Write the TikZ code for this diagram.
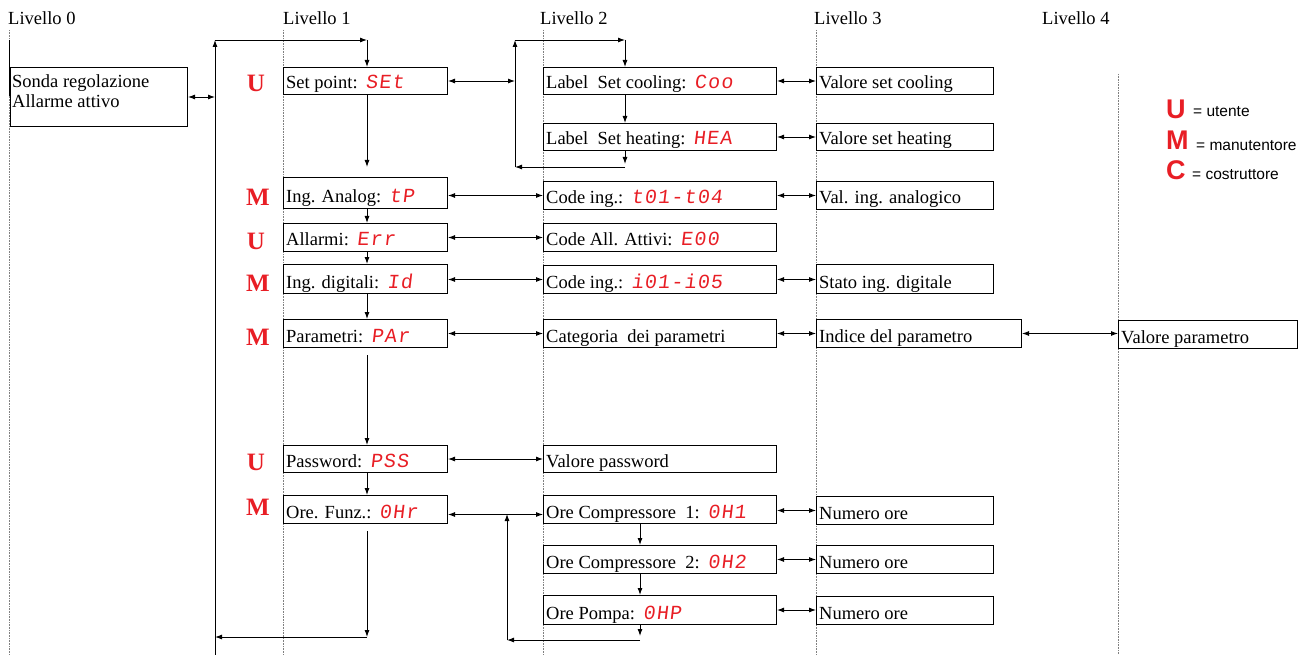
\documentclass[tikz,border=0pt]{standalone}
\usepackage{fontspec}
\setmainfont{Liberation Serif}
\newfontfamily\segfont{Liberation Mono}[FakeSlant=0.12, LetterSpace=6]
\newfontfamily\legfont{Liberation Sans}
\usetikzlibrary{arrows.meta,calc}
\definecolor{segred}{RGB}{232,30,37}
\newcommand\seg[1]{{\color{segred}\segfont\fontsize{20}{20}\selectfont #1}}
\newcommand\bx[6]{%
  \node[box, minimum width=#4pt, minimum height=#5pt] (#1) at (#2,#3) {};
  \node[txt] (#1t) at ([shift={(3pt,6pt)}]#1.south west) {#6};}
\begin{document}
\begin{tikzpicture}[x=1pt,y=-1pt,
  font=\fontsize{18.5}{21}\selectfont,
  box/.style={draw, line width=1pt, inner sep=0pt, anchor=north west},
  txt/.style={anchor=base west, inner sep=0pt},
  arr/.style={-{Latex[length=7pt,width=5pt]}, line width=0.9pt},
  darr/.style={{Latex[length=7pt,width=5pt]}-{Latex[length=7pt,width=5pt]}, line width=0.9pt},
  guide/.style={draw=gray, densely dotted, line width=0.6pt},
  role/.style={anchor=base, inner sep=0pt, text=segred, font=\fontsize{25}{25}\selectfont\bfseries},
  legL/.style={anchor=base west, inner sep=0pt, text=segred, font=\legfont\bfseries\fontsize{27}{27}\selectfont},
  legT/.style={anchor=base west, inner sep=0pt, font=\legfont\fontsize{15.5}{16}\selectfont}]
\useasboundingbox (0,0) rectangle (1309,655);
% level guides
\draw[guide] (9,30) -- (9,655);
\draw[guide] (283,30) -- (283,655);
\draw[guide] (543,30) -- (543,655);
\draw[guide] (816,30) -- (816,655);
\draw[guide] (1118,74) -- (1118,655);
\draw[line width=1pt] (9,40) -- (9,96);
% level labels
\node[txt] (lv0) at (8,25) {Livello 0};
\node[txt] (lv1) at (283,25) {Livello 1};
\node[txt] (lv2) at (540,25) {Livello 2};
\node[txt] (lv3) at (814,25) {Livello 3};
\node[txt] (lv4) at (1042,25) {Livello 4};
% boxes
\node[box, minimum width=177pt, minimum height=59pt] (sonda) at (10,67) {};
\node[txt] (sonda1) at (12,88) {Sonda regolazione};
\node[txt] (sonda2) at (12,108) {Allarme attivo};
\bx{sp}{283}{67}{164}{27}{Set point:\hspace{8pt}\seg{SEt}}
\bx{cool}{543}{67}{233}{27}{Label\ \ Set cooling:\hspace{8pt}\seg{Coo}}
\bx{vcool}{816}{67}{177}{27}{Valore set cooling}
\bx{heat}{543}{123}{233}{27}{Label\ \ Set heating:\hspace{8pt}\seg{HEA}}
\bx{vheat}{816}{123}{177}{27}{Valore set heating}
\bx{ia}{283}{177}{164}{31}{Ing. Analog:\hspace{8pt}\seg{tP}}
\bx{ci1}{543}{181}{233}{28}{Code ing.:\hspace{8pt}\seg{t01-t04}}
\bx{via}{816}{181}{177}{28}{Val. ing. analogico}
\bx{all}{283}{223}{164}{28}{Allarmi:\hspace{8pt}\seg{Err}}
\bx{caa}{543}{223}{233}{28}{Code All. Attivi:\hspace{8pt}\seg{E00}}
\bx{idg}{283}{264}{164}{29}{Ing. digitali:\hspace{8pt}\seg{Id}}
\bx{ci2}{543}{265}{233}{28}{Code ing.:\hspace{8pt}\seg{i01-i05}}
\bx{sid}{816}{264}{177}{29}{Stato ing. digitale}
\bx{par}{283}{319}{164}{28}{Parametri:\hspace{8pt}\seg{PAr}}
\bx{cat}{543}{319}{233}{28}{Categoria\ \ dei parametri}
\bx{ind}{816}{319}{205}{28}{Indice del parametro}
\bx{vpar}{1118}{320}{179}{28}{Valore parametro}
\bx{pw}{283}{445}{164}{27}{Password:\hspace{8pt}\seg{PSS}}
\bx{vpw}{543}{445}{233}{27}{Valore password}
\bx{of}{283}{495}{164}{28}{Ore. Funz.:\hspace{8pt}\seg{0Hr}}
\bx{oc1}{543}{495}{233}{28}{Ore Compressore\ \ 1:\hspace{8pt}\seg{0H1}}
\bx{no1}{816}{496}{177}{28}{Numero ore}
\bx{oc2}{543}{545}{233}{28}{Ore Compressore\ \ 2:\hspace{8pt}\seg{0H2}}
\bx{no2}{816}{545}{177}{28}{Numero ore}
\bx{op}{543}{595}{233}{29}{Ore Pompa:\hspace{8pt}\seg{0HP}}
\bx{no3}{816}{596}{177}{28}{Numero ore}
% role letters
\node[role] (r1) at (256,92) {U};
\node[role] (r2) at (258,206) {M};
\node[role] (r3) at (256,249) {U};
\node[role] (r4) at (258,291) {M};
\node[role] (r5) at (258,345) {M};
\node[role] (r6) at (256,470) {U};
\node[role] (r7) at (258,515) {M};
% legend
\node[legL] (lgU) at (1166,119) {U};
\node[legT] (lgUt) at (1193,117) {= utente};
\node[legL] (lgM) at (1166,150) {M};
\node[legT] (lgMt) at (1196,151) {= manutentore};
\node[legL] (lgC) at (1166,180) {C};
\node[legT] (lgCt) at (1192,180) {= costruttore};
% main loop (level 1)
\coordinate (a1) at (215,655);
\coordinate (a2) at (215,40);
\coordinate (a3) at (367,40);
\draw[arr] (a1) -- (a2);
\draw[arr] (a2) -- (a3);
\draw[arr] (a3) -- (a3 |- sp.north);
\draw[darr] (sonda.east) -- (sonda.east -| a1);
\draw[arr] (a3 |- sp.south) -- ([yshift=10pt]a3 |- ia.north);
\draw[arr] (a3 |- ia.south) -- (a3 |- all.north);
\draw[arr] (a3 |- all.south) -- (a3 |- idg.north);
\draw[arr] (a3 |- idg.south) -- (a3 |- par.north);
\draw[arr] ([yshift=-7pt]a3 |- par.south) -- (a3 |- pw.north);
\draw[arr] (a3 |- pw.south) -- (a3 |- of.north);
\coordinate (b2) at (367,637);
\draw[arr] ([yshift=-7pt]a3 |- of.south) -- (b2);
\draw[arr] (b2) -- (b2 -| a1);
% set point loop (level 2)
\coordinate (c1) at (515,40);
\coordinate (c2) at (515,167);
\coordinate (c3) at (625,40);
\coordinate (c4) at (625,164);
\coordinate (c5) at (625,167);
\draw[darr] (sp.east) -- (sp.east -| c1);
\draw[arr] (c2) -- (c1);
\draw[arr] (c1) -- (c3);
\draw[arr] (c3) -- (c3 |- cool.north);
\draw[arr] (c3 |- cool.south) -- (c3 |- heat.north);
\draw[arr] (c3 |- heat.south) -- (c4);
\draw[arr] (c5) -- (c2);
\draw[darr] (cool.east) -- (cool.east -| vcool.west);
\draw[darr] (heat.east) -- (heat.east -| vheat.west);
% horizontal links
\draw[darr] (ia.east |- ci1.west) -- (ci1.west);
\draw[darr] (ci1.east) -- (ci1.east -| via.west);
\draw[darr] (all.east) -- (all.east -| caa.west);
\draw[darr] (idg.east |- ci2.west) -- (ci2.west);
\draw[darr] (ci2.east) -- (ci2.east -| sid.west);
\draw[darr] (par.east) -- (par.east -| cat.west);
\draw[darr] (cat.east) -- (cat.east -| ind.west);
\draw[darr] (ind.east) -- (ind.east -| vpar.west);
\draw[darr] (pw.east) -- (pw.east -| vpw.west);
% ore loop
\coordinate (d1) at (507,640);
\coordinate (d2) at (507,514);
\coordinate (d3) at (640,640);
\coordinate (d4) at (640,636);
\draw[darr] ([yshift=-5pt]of.east) -- ([yshift=-5pt]oc1.west);
\draw[arr] (d1) -- (d2);
\draw[arr] (d3 |- oc1.south) -- (d3 |- oc2.north);
\draw[arr] (d3 |- oc2.south) -- (d3 |- op.north);
\draw[arr] (d3 |- op.south) -- (d4);
\draw[arr] (d3) -- (d1);
\draw[darr] ([yshift=-1pt]oc1.east) -- ([yshift=-1pt]oc1.east -| no1.west);
\draw[darr] (oc2.east) -- (oc2.east -| no2.west);
\draw[darr] (op.east) -- (op.east -| no3.west);
\end{tikzpicture}
\end{document}
